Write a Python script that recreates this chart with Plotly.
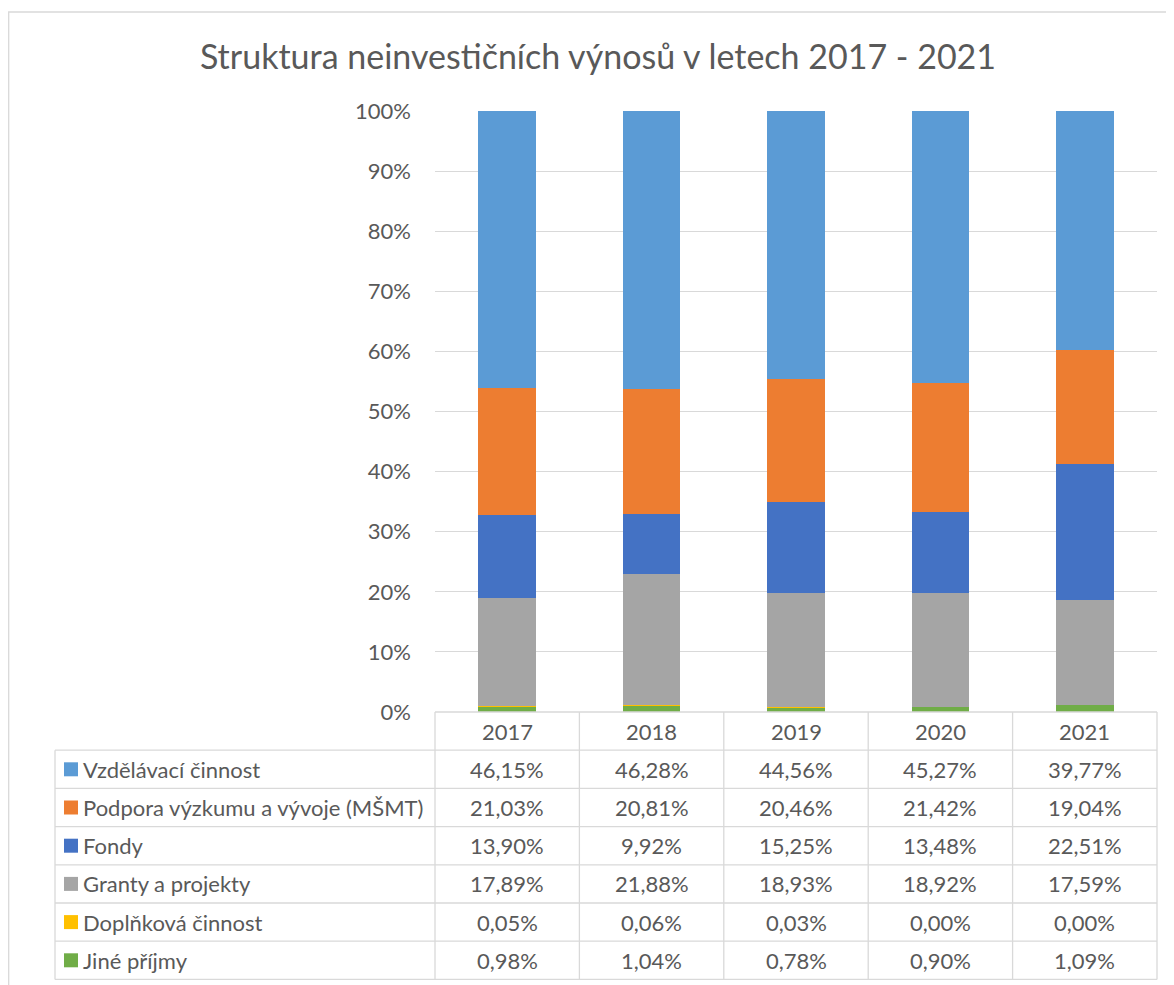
import plotly.graph_objects as go

years = ['2017', '2018', '2019', '2020', '2021']
series_names = ['Vzdělávací činnost', 'Podpora výzkumu a vývoje (MŠMT)', 'Fondy',
                'Granty a projekty', 'Doplňková činnost', 'Jiné příjmy']
vzdelavaci = [46.15, 46.28, 44.56, 45.27, 39.77]
podpora = [21.03, 20.81, 20.46, 21.42, 19.04]
fondy = [13.90, 9.92, 15.25, 13.48, 22.51]
granty = [17.89, 21.88, 18.93, 18.92, 17.59]
doplnkova = [0.05, 0.06, 0.03, 0.00, 0.00]
jine = [0.98, 1.04, 0.78, 0.90, 1.09]
colors = ['#5B9BD5', '#ED7D31', '#4472C4', '#A5A5A5', '#FFC000', '#70AD47']
yticks = [0, 10, 20, 30, 40, 50, 60, 70, 80, 90, 100]

values = [vzdelavaci, podpora, fondy, granty, doplnkova, jine]

OFF = 8  # page body margin
W, H = 1174 - OFF, 985 - OFF
FONT = 'Lato'
TXT = '#595959'
GRID = '#D9D9D9'
FS = 22


def px(x):
    return (x - OFF) / W


def py(y):
    return 1 - (y - OFF) / H


# plot area (target page pixels)
X0, X1 = 435, 1157
Y0, Y1 = 111, 712
ROW_H = 38.2
N_ROWS = len(series_names)
LEFT = 55

fig = go.Figure()
for name, vals, col in reversed(list(zip(series_names, values, colors))):
    fig.add_trace(go.Bar(x=years, y=vals, name=name, marker=dict(color=col, line=dict(width=0)),
                         width=0.4, showlegend=False, hoverinfo='x+y+name'))

shapes = []
annotations = []

header_top = Y1
rows_top = Y1 + ROW_H
table_bottom = rows_top + ROW_H * N_ROWS
col_w = (X1 - X0) / len(years)
LW = 1.3

for i in range(len(years) + 1):
    x = X0 + i * col_w
    shapes.append(dict(type='line', xref='paper', yref='paper', x0=px(x), x1=px(x),
                       y0=py(header_top), y1=py(table_bottom), line=dict(color=GRID, width=LW)))
shapes.append(dict(type='line', xref='paper', yref='paper', x0=px(LEFT), x1=px(LEFT),
                   y0=py(rows_top), y1=py(table_bottom), line=dict(color=GRID, width=LW)))
shapes.append(dict(type='line', xref='paper', yref='paper', x0=px(X0), x1=px(X1),
                   y0=py(header_top), y1=py(header_top), line=dict(color=GRID, width=LW)))
for r in range(N_ROWS + 1):
    y = rows_top + r * ROW_H
    shapes.append(dict(type='line', xref='paper', yref='paper', x0=px(LEFT), x1=px(X1),
                       y0=py(y), y1=py(y), line=dict(color=GRID, width=LW)))

for i, yr in enumerate(years):
    annotations.append(dict(x=px(X0 + (i + 0.5) * col_w), y=py(header_top + ROW_H / 2), xref='paper',
                            yref='paper', text=yr, showarrow=False, xanchor='center', yanchor='middle',
                            font=dict(family=FONT, size=FS, color=TXT)))

for r, (name, vals, col) in enumerate(zip(series_names, values, colors)):
    yc = rows_top + (r + 0.5) * ROW_H
    shapes.append(dict(type='rect', xref='paper', yref='paper', x0=px(64), x1=px(78),
                       y0=py(yc + 7), y1=py(yc - 7), fillcolor=col, line=dict(width=0)))
    annotations.append(dict(x=px(81), y=py(yc), xref='paper', yref='paper', text=name,
                            showarrow=False, xanchor='left', yanchor='middle',
                            font=dict(family=FONT, size=FS, color=TXT)))
    for i, v in enumerate(vals):
        annotations.append(dict(x=px(X0 + (i + 0.5) * col_w), y=py(yc), xref='paper', yref='paper',
                                text=f'{v:.2f}'.replace('.', ',') + '%', showarrow=False,
                                xanchor='center', yanchor='middle',
                                font=dict(family=FONT, size=FS, color=TXT)))

# outer chart border
shapes.append(dict(type='rect', xref='paper', yref='paper', x0=px(8.7), x1=px(1190),
                   y0=py(1000), y1=py(12), line=dict(color='#D9D9D9', width=1.3), layer='below'))

fig.update_layout(
    width=W, height=H,
    margin=dict(l=0, r=0, t=0, b=0, autoexpand=False),
    paper_bgcolor='white', plot_bgcolor='white',
    barmode='stack', barnorm='percent',
    title=dict(text='Struktura neinvestičních výnosů v letech 2017 - 2021', x=px(598), xanchor='center',
               y=py(57), yanchor='middle', font=dict(family=FONT, size=34, color=TXT)),
    xaxis=dict(domain=[px(X0), px(X1)], showticklabels=False, showgrid=False, zeroline=False,
               showline=False, type='category'),
    yaxis=dict(domain=[py(Y1), py(Y0)], range=[0, 100], tickvals=yticks,
               ticktext=[f'{t}%' for t in yticks], showgrid=True, gridcolor=GRID, gridwidth=1.3,
               zeroline=False, showline=False, ticks='', ticklabelstandoff=23,
               tickfont=dict(family=FONT, size=FS, color=TXT)),
    shapes=shapes, annotations=annotations,
    font=dict(family=FONT, color=TXT),
)

fig.write_html('out.html')
